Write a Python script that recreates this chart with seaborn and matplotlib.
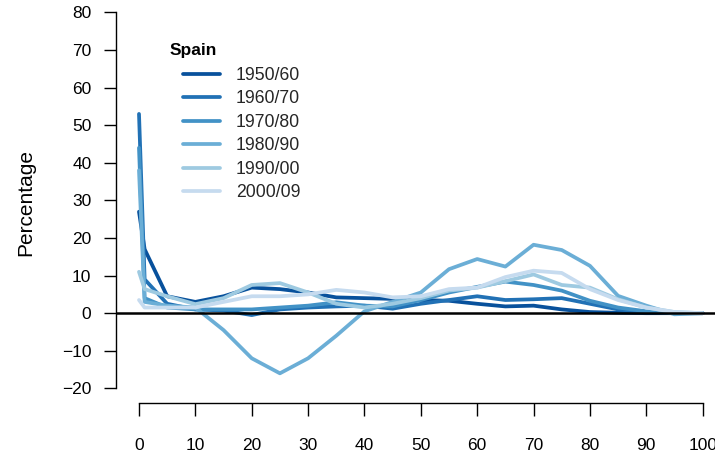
import numpy as np
import pandas as pd
import matplotlib
matplotlib.use("Agg")
import matplotlib.pyplot as plt
import seaborn as sns

ages = [0, 1, 5, 10, 15, 20, 25, 30, 35, 40, 45, 50, 55, 60, 65, 70, 75, 80, 85, 90, 95, 100]
periods = ["1950/60", "1960/70", "1970/80", "1980/90", "1990/00", "2000/09"]

p1950 = [27, 17, 4.5, 3, 4.5, 6.8, 6.4, 5.5, 4.2, 4, 3.8, 3.5, 3.3, 2.5, 1.8, 2, 1, 0.3, 0.1, 0, 0, 0]
p1960 = [53, 9, 2.5, 1, 0.7, -0.5, 1, 1.5, 1.8, 2, 1.2, 2.5, 3.5, 4.5, 3.5, 3.7, 4, 2.5, 1, 0.3, 0, 0]
p1970 = [44, 4, 1.5, 1, 1, 1, 1.5, 2, 2.9, 2, 1.8, 3.5, 5.5, 7, 8.4, 7.5, 6, 3.3, 1.5, 0.5, 0, 0]
p1980 = [38, 3, 2, 1.5, -4.5, -12, -16, -12, -6, 0.5, 3, 5.5, 11.7, 14.4, 12.4, 18.2, 16.8, 12.6, 4.6, 2, -0.3, 0]
p1990 = [11, 6.4, 4.5, 2.4, 4, 7.5, 8, 5.5, 2.5, 1.5, 2.5, 4, 6, 6.8, 8.5, 10.3, 7.5, 6.8, 3.7, 1.5, 0.3, 0]
p2000 = [3.5, 1.5, 1.5, 1.5, 3, 4.5, 4.5, 5, 6.2, 5.5, 4.2, 4.5, 6.4, 6.8, 9.6, 11.3, 10.7, 6.4, 3.5, 1.5, 0.3, 0]

series = [p1950, p1960, p1970, p1980, p1990, p2000]
colors = ["#08519C", "#2171B5", "#4292C6", "#6BAED6", "#9ECAE1", "#C6DBEF"]

df = pd.DataFrame({
    "age": np.tile(ages, len(periods)),
    "value": np.concatenate(series),
    "period": np.repeat(periods, len(ages)),
})

sns.set_theme(style="white")
plt.rcParams["font.family"] = ["Liberation Sans", "DejaVu Sans"]

W, H = 715, 455
fig = plt.figure(figsize=(W / 100, H / 100), dpi=100)
left_px, right_px = 116.45, 725.2
top_px, bottom_px = -2.6, 403.4
ax = fig.add_axes([left_px / W, 1 - bottom_px / H,
                   (right_px - left_px) / W, (bottom_px - top_px) / H])
ax.patch.set_alpha(0)

LW = 2.7
sns.lineplot(data=df, x="age", y="value", hue="period", hue_order=periods,
             palette=colors, linewidth=LW, ax=ax, legend=False)

ax.axhline(0, color="black", lw=1.8, zorder=5)

ax.set_xlim(-4, 104)
ax.set_ylim(-24, 84)
ax.set_xticks(range(0, 101, 10))
ax.set_yticks(range(-20, 81, 10))
ax.set_yticklabels([str(v).replace("-", "\u2212") for v in range(-20, 81, 10)])
for s in ["top", "right"]:
    ax.spines[s].set_visible(False)
ax.spines["left"].set_bounds(-20, 80)
ax.spines["bottom"].set_bounds(0, 100)
for s in ["left", "bottom"]:
    ax.spines[s].set_color("black")
    ax.spines[s].set_linewidth(1.0)
ax.tick_params(axis="both", which="both", length=9, width=1.0, color="black",
               labelsize=12.5, labelcolor="black", direction="out")
ax.tick_params(axis="y", pad=9, left=True)
ax.tick_params(axis="x", pad=16, bottom=True)
ax.set_xlabel("")
ax.set_ylabel("")
ax.grid(False)

fig.text(26 / W, 1 - 202 / H, "Percentage", rotation=90, ha="center", va="center",
         fontsize=15, color="black")

from matplotlib.lines import Line2D
handles = [Line2D([0], [0], color=c, lw=LW) for c in colors]
leg = ax.legend(handles, periods, loc="upper left", frameon=False,
                bbox_to_anchor=(183 / W, 1 - 67 / H), bbox_transform=fig.transFigure,
                borderpad=0, borderaxespad=0, handlelength=2.1, handletextpad=0.9,
                labelspacing=0.365, fontsize=12.7)
fig.text(170 / W, 1 - 50 / H, "Spain", fontweight="bold", fontsize=12.5,
         ha="left", va="center", color="black")

fig.savefig("out.png", dpi=100)
